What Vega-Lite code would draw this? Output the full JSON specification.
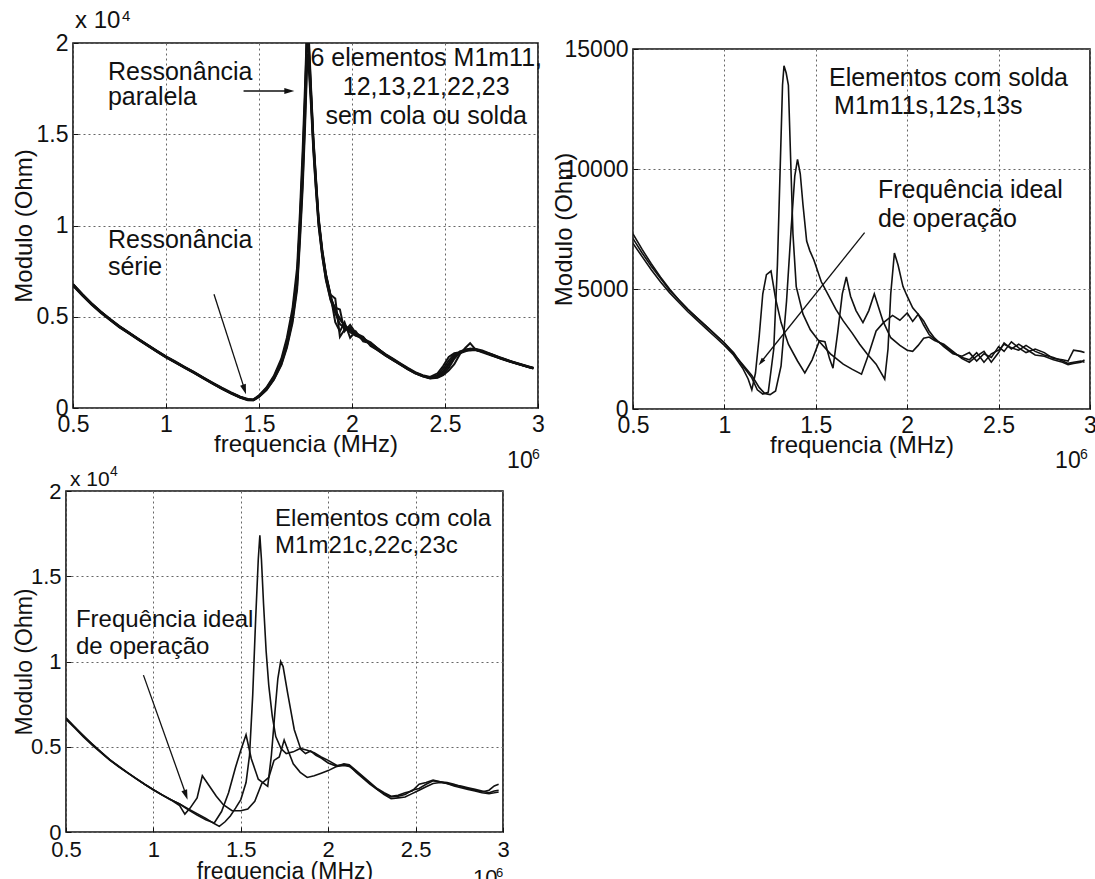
{
"$schema":"https://vega.github.io/schema/vega-lite/v6.json",
"background":"white",
"padding":0,
"config":{
 "font":"Liberation Sans",
 "view":{"stroke":null},
 "axis":{"labelFont":"Liberation Sans","labelFontSize":23,"labelColor":"#111","titleFont":"Liberation Sans","titleFontSize":24,"titleFontWeight":"normal","titleColor":"#111","domain":false,"ticks":true,"tickSize":-5,"tickColor":"#111","tickWidth":1,"grid":true,"gridColor":"#666","gridDash":[2,3],"gridWidth":1,"gridOpacity":1,"labelFlush":false,"labelOverlap":false,"labelPadding":10},
 "text":{"font":"Liberation Sans","fontSize":25,"color":"#111"}
},
"datasets":{
"p1":[
{"c":1,"f":0.5,"z":6750},{"c":1,"f":0.55,"z":6200},{"c":1,"f":0.6,"z":5700},{"c":1,"f":0.65,"z":5250},{"c":1,"f":0.7,"z":4850},{"c":1,"f":0.75,"z":4450},{"c":1,"f":0.8,"z":4120},{"c":1,"f":0.85,"z":3780},{"c":1,"f":0.9,"z":3450},{"c":1,"f":0.95,"z":3120},{"c":1,"f":1,"z":2800},{"c":1,"f":1.05,"z":2520},{"c":1,"f":1.1,"z":2230},{"c":1,"f":1.15,"z":1950},{"c":1,"f":1.2,"z":1650},{"c":1,"f":1.25,"z":1360},{"c":1,"f":1.3,"z":1080},{"c":1,"f":1.35,"z":820},{"c":1,"f":1.4,"z":590},{"c":1,"f":1.44,"z":460},{"c":1,"f":1.47,"z":440},{"c":1,"f":1.5,"z":650},{"c":1,"f":1.54,"z":1050},{"c":1,"f":1.58,"z":1650},{"c":1,"f":1.62,"z":2500},{"c":1,"f":1.65,"z":3550},{"c":1,"f":1.68,"z":5000},{"c":1,"f":1.705,"z":7000},{"c":1,"f":1.72,"z":9800},{"c":1,"f":1.735,"z":13000},{"c":1,"f":1.748,"z":16500},{"c":1,"f":1.757,"z":19500},{"c":1,"f":1.763,"z":20800},{"c":1,"f":1.77,"z":19000},{"c":1,"f":1.78,"z":17000},{"c":1,"f":1.792,"z":14500},{"c":1,"f":1.805,"z":12500},{"c":1,"f":1.82,"z":10300},{"c":1,"f":1.84,"z":8500},{"c":1,"f":1.86,"z":7200},{"c":1,"f":1.885,"z":6100},{"c":1,"f":1.91,"z":5300},{"c":1,"f":1.935,"z":4850},{"c":1,"f":1.96,"z":4550},{"c":1,"f":1.99,"z":4250},{"c":1,"f":2.02,"z":4050},{"c":1,"f":2.06,"z":3800},{"c":1,"f":2.1,"z":3500},{"c":1,"f":2.14,"z":3200},{"c":1,"f":2.18,"z":2900},{"c":1,"f":2.22,"z":2650},{"c":1,"f":2.26,"z":2400},{"c":1,"f":2.3,"z":2150},{"c":1,"f":2.34,"z":1920},{"c":1,"f":2.38,"z":1760},{"c":1,"f":2.42,"z":1650},{"c":1,"f":2.46,"z":1750},{"c":1,"f":2.49,"z":2000},{"c":1,"f":2.52,"z":2450},{"c":1,"f":2.55,"z":2850},{"c":1,"f":2.58,"z":3050},{"c":1,"f":2.61,"z":3150},{"c":1,"f":2.635,"z":3200},{"c":1,"f":2.66,"z":3200},{"c":1,"f":2.7,"z":3100},{"c":1,"f":2.75,"z":2900},{"c":1,"f":2.8,"z":2720},{"c":1,"f":2.85,"z":2550},{"c":1,"f":2.9,"z":2400},{"c":1,"f":2.95,"z":2250},{"c":1,"f":2.975,"z":2180},
{"c":2,"f":0.5,"z":6800},{"c":2,"f":0.55,"z":6250},{"c":2,"f":0.6,"z":5740},{"c":2,"f":0.65,"z":5290},{"c":2,"f":0.7,"z":4880},{"c":2,"f":0.75,"z":4490},{"c":2,"f":0.8,"z":4150},{"c":2,"f":0.85,"z":3810},{"c":2,"f":0.9,"z":3480},{"c":2,"f":0.95,"z":3150},{"c":2,"f":1,"z":2830},{"c":2,"f":1.05,"z":2550},{"c":2,"f":1.1,"z":2260},{"c":2,"f":1.15,"z":1980},{"c":2,"f":1.2,"z":1680},{"c":2,"f":1.25,"z":1390},{"c":2,"f":1.3,"z":1110},{"c":2,"f":1.35,"z":850},{"c":2,"f":1.4,"z":620},{"c":2,"f":1.44,"z":490},{"c":2,"f":1.47,"z":470},{"c":2,"f":1.5,"z":690},{"c":2,"f":1.54,"z":1120},{"c":2,"f":1.58,"z":1760},{"c":2,"f":1.62,"z":2700},{"c":2,"f":1.65,"z":3850},{"c":2,"f":1.68,"z":5450},{"c":2,"f":1.705,"z":7700},{"c":2,"f":1.72,"z":10700},{"c":2,"f":1.735,"z":14200},{"c":2,"f":1.748,"z":17800},{"c":2,"f":1.757,"z":20600},{"c":2,"f":1.763,"z":21500},{"c":2,"f":1.77,"z":19800},{"c":2,"f":1.78,"z":17500},{"c":2,"f":1.792,"z":14900},{"c":2,"f":1.805,"z":12800},{"c":2,"f":1.82,"z":10500},{"c":2,"f":1.84,"z":8700},{"c":2,"f":1.86,"z":7350},{"c":2,"f":1.885,"z":6200},{"c":2,"f":1.91,"z":6000},{"c":2,"f":1.935,"z":3900},{"c":2,"f":1.96,"z":4300},{"c":2,"f":1.99,"z":4400},{"c":2,"f":2.02,"z":4000},{"c":2,"f":2.06,"z":3750},{"c":2,"f":2.1,"z":3550},{"c":2,"f":2.14,"z":3250},{"c":2,"f":2.18,"z":2950},{"c":2,"f":2.22,"z":2700},{"c":2,"f":2.26,"z":2450},{"c":2,"f":2.3,"z":2200},{"c":2,"f":2.34,"z":1970},{"c":2,"f":2.38,"z":1800},{"c":2,"f":2.42,"z":1700},{"c":2,"f":2.46,"z":1900},{"c":2,"f":2.49,"z":2300},{"c":2,"f":2.52,"z":2800},{"c":2,"f":2.55,"z":3000},{"c":2,"f":2.58,"z":3050},{"c":2,"f":2.61,"z":3150},{"c":2,"f":2.635,"z":3150},{"c":2,"f":2.66,"z":3180},{"c":2,"f":2.7,"z":3100},{"c":2,"f":2.75,"z":2950},{"c":2,"f":2.8,"z":2760},{"c":2,"f":2.85,"z":2580},{"c":2,"f":2.9,"z":2430},{"c":2,"f":2.95,"z":2280},{"c":2,"f":2.975,"z":2210},
{"c":3,"f":0.5,"z":6700},{"c":3,"f":0.55,"z":6160},{"c":3,"f":0.6,"z":5660},{"c":3,"f":0.65,"z":5210},{"c":3,"f":0.7,"z":4810},{"c":3,"f":0.75,"z":4420},{"c":3,"f":0.8,"z":4080},{"c":3,"f":0.85,"z":3750},{"c":3,"f":0.9,"z":3420},{"c":3,"f":0.95,"z":3090},{"c":3,"f":1,"z":2770},{"c":3,"f":1.05,"z":2490},{"c":3,"f":1.1,"z":2200},{"c":3,"f":1.15,"z":1920},{"c":3,"f":1.2,"z":1620},{"c":3,"f":1.25,"z":1330},{"c":3,"f":1.3,"z":1050},{"c":3,"f":1.35,"z":790},{"c":3,"f":1.4,"z":560},{"c":3,"f":1.44,"z":430},{"c":3,"f":1.47,"z":420},{"c":3,"f":1.5,"z":600},{"c":3,"f":1.54,"z":980},{"c":3,"f":1.58,"z":1550},{"c":3,"f":1.62,"z":2350},{"c":3,"f":1.65,"z":3300},{"c":3,"f":1.68,"z":4650},{"c":3,"f":1.705,"z":6500},{"c":3,"f":1.72,"z":9100},{"c":3,"f":1.735,"z":12100},{"c":3,"f":1.748,"z":15500},{"c":3,"f":1.757,"z":18300},{"c":3,"f":1.763,"z":19400},{"c":3,"f":1.77,"z":18600},{"c":3,"f":1.78,"z":16800},{"c":3,"f":1.792,"z":14300},{"c":3,"f":1.805,"z":12200},{"c":3,"f":1.82,"z":10100},{"c":3,"f":1.84,"z":8350},{"c":3,"f":1.86,"z":7050},{"c":3,"f":1.885,"z":5950},{"c":3,"f":1.91,"z":5500},{"c":3,"f":1.935,"z":5400},{"c":3,"f":1.96,"z":4200},{"c":3,"f":1.99,"z":4550},{"c":3,"f":2.02,"z":4100},{"c":3,"f":2.06,"z":3900},{"c":3,"f":2.1,"z":3400},{"c":3,"f":2.14,"z":3150},{"c":3,"f":2.18,"z":2880},{"c":3,"f":2.22,"z":2620},{"c":3,"f":2.26,"z":2370},{"c":3,"f":2.3,"z":2120},{"c":3,"f":2.34,"z":1900},{"c":3,"f":2.38,"z":1740},{"c":3,"f":2.42,"z":1620},{"c":3,"f":2.46,"z":1650},{"c":3,"f":2.49,"z":1800},{"c":3,"f":2.52,"z":2050},{"c":3,"f":2.55,"z":2400},{"c":3,"f":2.58,"z":2950},{"c":3,"f":2.61,"z":3300},{"c":3,"f":2.635,"z":3550},{"c":3,"f":2.66,"z":3250},{"c":3,"f":2.7,"z":3100},{"c":3,"f":2.75,"z":2900},{"c":3,"f":2.8,"z":2700},{"c":3,"f":2.85,"z":2530},{"c":3,"f":2.9,"z":2380},{"c":3,"f":2.95,"z":2230},{"c":3,"f":2.975,"z":2160},
{"c":4,"f":0.5,"z":6780},{"c":4,"f":0.55,"z":6230},{"c":4,"f":0.6,"z":5720},{"c":4,"f":0.65,"z":5270},{"c":4,"f":0.7,"z":4860},{"c":4,"f":0.75,"z":4470},{"c":4,"f":0.8,"z":4130},{"c":4,"f":0.85,"z":3790},{"c":4,"f":0.9,"z":3460},{"c":4,"f":0.95,"z":3130},{"c":4,"f":1,"z":2810},{"c":4,"f":1.05,"z":2530},{"c":4,"f":1.1,"z":2240},{"c":4,"f":1.15,"z":1960},{"c":4,"f":1.2,"z":1660},{"c":4,"f":1.25,"z":1370},{"c":4,"f":1.3,"z":1090},{"c":4,"f":1.35,"z":830},{"c":4,"f":1.4,"z":600},{"c":4,"f":1.44,"z":470},{"c":4,"f":1.47,"z":450},{"c":4,"f":1.5,"z":660},{"c":4,"f":1.54,"z":1080},{"c":4,"f":1.58,"z":1700},{"c":4,"f":1.62,"z":2580},{"c":4,"f":1.65,"z":3680},{"c":4,"f":1.68,"z":5200},{"c":4,"f":1.705,"z":7300},{"c":4,"f":1.72,"z":10200},{"c":4,"f":1.735,"z":13600},{"c":4,"f":1.748,"z":17200},{"c":4,"f":1.757,"z":20300},{"c":4,"f":1.763,"z":21000},{"c":4,"f":1.77,"z":19500},{"c":4,"f":1.78,"z":17300},{"c":4,"f":1.792,"z":14800},{"c":4,"f":1.805,"z":12700},{"c":4,"f":1.82,"z":10400},{"c":4,"f":1.84,"z":8600},{"c":4,"f":1.86,"z":7300},{"c":4,"f":1.885,"z":6150},{"c":4,"f":1.91,"z":4700},{"c":4,"f":1.935,"z":4200},{"c":4,"f":1.96,"z":4700},{"c":4,"f":1.99,"z":3850},{"c":4,"f":2.02,"z":4200},{"c":4,"f":2.06,"z":3650},{"c":4,"f":2.1,"z":3550},{"c":4,"f":2.14,"z":3250},{"c":4,"f":2.18,"z":2930},{"c":4,"f":2.22,"z":2680},{"c":4,"f":2.26,"z":2420},{"c":4,"f":2.3,"z":2170},{"c":4,"f":2.34,"z":1940},{"c":4,"f":2.38,"z":1770},{"c":4,"f":2.42,"z":1660},{"c":4,"f":2.46,"z":1800},{"c":4,"f":2.49,"z":2150},{"c":4,"f":2.52,"z":2600},{"c":4,"f":2.55,"z":2950},{"c":4,"f":2.58,"z":3000},{"c":4,"f":2.61,"z":3100},{"c":4,"f":2.635,"z":3200},{"c":4,"f":2.66,"z":3200},{"c":4,"f":2.7,"z":3050},{"c":4,"f":2.75,"z":2880},{"c":4,"f":2.8,"z":2710},{"c":4,"f":2.85,"z":2540},{"c":4,"f":2.9,"z":2390},{"c":4,"f":2.95,"z":2240},{"c":4,"f":2.975,"z":2170},
{"c":5,"f":0.5,"z":6720},{"c":5,"f":0.55,"z":6170},{"c":5,"f":0.6,"z":5680},{"c":5,"f":0.65,"z":5230},{"c":5,"f":0.7,"z":4830},{"c":5,"f":0.75,"z":4430},{"c":5,"f":0.8,"z":4100},{"c":5,"f":0.85,"z":3760},{"c":5,"f":0.9,"z":3430},{"c":5,"f":0.95,"z":3100},{"c":5,"f":1,"z":2780},{"c":5,"f":1.05,"z":2500},{"c":5,"f":1.1,"z":2210},{"c":5,"f":1.15,"z":1930},{"c":5,"f":1.2,"z":1630},{"c":5,"f":1.25,"z":1340},{"c":5,"f":1.3,"z":1060},{"c":5,"f":1.35,"z":800},{"c":5,"f":1.4,"z":570},{"c":5,"f":1.44,"z":440},{"c":5,"f":1.47,"z":430},{"c":5,"f":1.5,"z":620},{"c":5,"f":1.54,"z":1000},{"c":5,"f":1.58,"z":1580},{"c":5,"f":1.62,"z":2400},{"c":5,"f":1.65,"z":3400},{"c":5,"f":1.68,"z":4800},{"c":5,"f":1.705,"z":6700},{"c":5,"f":1.72,"z":9400},{"c":5,"f":1.735,"z":12500},{"c":5,"f":1.748,"z":16000},{"c":5,"f":1.757,"z":18800},{"c":5,"f":1.763,"z":19300},{"c":5,"f":1.77,"z":18200},{"c":5,"f":1.78,"z":16500},{"c":5,"f":1.792,"z":14100},{"c":5,"f":1.805,"z":12100},{"c":5,"f":1.82,"z":10000},{"c":5,"f":1.84,"z":8300},{"c":5,"f":1.86,"z":7000},{"c":5,"f":1.885,"z":5900},{"c":5,"f":1.91,"z":5200},{"c":5,"f":1.935,"z":4600},{"c":5,"f":1.96,"z":4400},{"c":5,"f":1.99,"z":4150},{"c":5,"f":2.02,"z":3950},{"c":5,"f":2.06,"z":3850},{"c":5,"f":2.1,"z":3450},{"c":5,"f":2.14,"z":3150},{"c":5,"f":2.18,"z":2870},{"c":5,"f":2.22,"z":2620},{"c":5,"f":2.26,"z":2380},{"c":5,"f":2.3,"z":2130},{"c":5,"f":2.34,"z":1900},{"c":5,"f":2.38,"z":1740},{"c":5,"f":2.42,"z":1630},{"c":5,"f":2.46,"z":1680},{"c":5,"f":2.49,"z":1850},{"c":5,"f":2.52,"z":2200},{"c":5,"f":2.55,"z":2700},{"c":5,"f":2.58,"z":3050},{"c":5,"f":2.61,"z":3200},{"c":5,"f":2.635,"z":3250},{"c":5,"f":2.66,"z":3250},{"c":5,"f":2.7,"z":3150},{"c":5,"f":2.75,"z":2950},{"c":5,"f":2.8,"z":2750},{"c":5,"f":2.85,"z":2570},{"c":5,"f":2.9,"z":2410},{"c":5,"f":2.95,"z":2260},{"c":5,"f":2.975,"z":2190},
{"c":6,"f":0.5,"z":6760},{"c":6,"f":0.55,"z":6210},{"c":6,"f":0.6,"z":5710},{"c":6,"f":0.65,"z":5260},{"c":6,"f":0.7,"z":4850},{"c":6,"f":0.75,"z":4460},{"c":6,"f":0.8,"z":4120},{"c":6,"f":0.85,"z":3780},{"c":6,"f":0.9,"z":3450},{"c":6,"f":0.95,"z":3120},{"c":6,"f":1,"z":2800},{"c":6,"f":1.05,"z":2520},{"c":6,"f":1.1,"z":2230},{"c":6,"f":1.15,"z":1950},{"c":6,"f":1.2,"z":1650},{"c":6,"f":1.25,"z":1360},{"c":6,"f":1.3,"z":1080},{"c":6,"f":1.35,"z":820},{"c":6,"f":1.4,"z":590},{"c":6,"f":1.44,"z":460},{"c":6,"f":1.47,"z":450},{"c":6,"f":1.5,"z":640},{"c":6,"f":1.54,"z":1060},{"c":6,"f":1.58,"z":1670},{"c":6,"f":1.62,"z":2540},{"c":6,"f":1.65,"z":3600},{"c":6,"f":1.68,"z":5100},{"c":6,"f":1.705,"z":7150},{"c":6,"f":1.72,"z":10000},{"c":6,"f":1.735,"z":13300},{"c":6,"f":1.748,"z":16900},{"c":6,"f":1.757,"z":20000},{"c":6,"f":1.763,"z":20600},{"c":6,"f":1.77,"z":19200},{"c":6,"f":1.78,"z":17100},{"c":6,"f":1.792,"z":14600},{"c":6,"f":1.805,"z":12600},{"c":6,"f":1.82,"z":10350},{"c":6,"f":1.84,"z":8550},{"c":6,"f":1.86,"z":7250},{"c":6,"f":1.885,"z":6100},{"c":6,"f":1.91,"z":5350},{"c":6,"f":1.935,"z":4900},{"c":6,"f":1.96,"z":4500},{"c":6,"f":1.99,"z":4300},{"c":6,"f":2.02,"z":4100},{"c":6,"f":2.06,"z":3800},{"c":6,"f":2.1,"z":3600},{"c":6,"f":2.14,"z":3250},{"c":6,"f":2.18,"z":2920},{"c":6,"f":2.22,"z":2660},{"c":6,"f":2.26,"z":2410},{"c":6,"f":2.3,"z":2160},{"c":6,"f":2.34,"z":1930},{"c":6,"f":2.38,"z":1760},{"c":6,"f":2.42,"z":1650},{"c":6,"f":2.46,"z":1720},{"c":6,"f":2.49,"z":1950},{"c":6,"f":2.52,"z":2350},{"c":6,"f":2.55,"z":2800},{"c":6,"f":2.58,"z":3100},{"c":6,"f":2.61,"z":3200},{"c":6,"f":2.635,"z":3250},{"c":6,"f":2.66,"z":3200},{"c":6,"f":2.7,"z":3100},{"c":6,"f":2.75,"z":2920},{"c":6,"f":2.8,"z":2730},{"c":6,"f":2.85,"z":2560},{"c":6,"f":2.9,"z":2400},{"c":6,"f":2.95,"z":2250},{"c":6,"f":2.975,"z":2180}
],
"p2":[
{"c":"A","f":0.5,"z":7300},{"c":"A","f":0.55,"z":6650},{"c":"A","f":0.6,"z":6050},{"c":"A","f":0.65,"z":5500},{"c":"A","f":0.7,"z":5000},{"c":"A","f":0.75,"z":4550},{"c":"A","f":0.8,"z":4150},{"c":"A","f":0.85,"z":3800},{"c":"A","f":0.9,"z":3450},{"c":"A","f":0.95,"z":3100},{"c":"A","f":1,"z":2750},{"c":"A","f":1.05,"z":2350},{"c":"A","f":1.1,"z":1800},{"c":"A","f":1.15,"z":1300},{"c":"A","f":1.18,"z":800},{"c":"A","f":1.21,"z":620},{"c":"A","f":1.24,"z":700},{"c":"A","f":1.27,"z":2500},{"c":"A","f":1.29,"z":6000},{"c":"A","f":1.305,"z":10000},{"c":"A","f":1.318,"z":13500},{"c":"A","f":1.326,"z":14300},{"c":"A","f":1.338,"z":14000},{"c":"A","f":1.35,"z":13500},{"c":"A","f":1.36,"z":11000},{"c":"A","f":1.375,"z":7300},{"c":"A","f":1.393,"z":5100},{"c":"A","f":1.43,"z":3950},{"c":"A","f":1.47,"z":3300},{"c":"A","f":1.52,"z":2800},{"c":"A","f":1.58,"z":2300},{"c":"A","f":1.65,"z":1870},{"c":"A","f":1.7,"z":1650},{"c":"A","f":1.75,"z":1450},{"c":"A","f":1.79,"z":2300},{"c":"A","f":1.83,"z":3250},{"c":"A","f":1.87,"z":3600},{"c":"A","f":1.92,"z":3900},{"c":"A","f":1.96,"z":3700},{"c":"A","f":2,"z":4000},{"c":"A","f":2.03,"z":3650},{"c":"A","f":2.06,"z":3950},{"c":"A","f":2.09,"z":3500},{"c":"A","f":2.12,"z":3100},{"c":"A","f":2.15,"z":2900},{"c":"A","f":2.2,"z":2650},{"c":"A","f":2.25,"z":2350},{"c":"A","f":2.3,"z":2150},{"c":"A","f":2.34,"z":2050},{"c":"A","f":2.38,"z":2350},{"c":"A","f":2.42,"z":1950},{"c":"A","f":2.46,"z":2300},{"c":"A","f":2.5,"z":2450},{"c":"A","f":2.53,"z":2700},{"c":"A","f":2.57,"z":2550},{"c":"A","f":2.61,"z":2450},{"c":"A","f":2.65,"z":2650},{"c":"A","f":2.7,"z":2400},{"c":"A","f":2.75,"z":2250},{"c":"A","f":2.8,"z":2150},{"c":"A","f":2.85,"z":2000},{"c":"A","f":2.88,"z":1900},{"c":"A","f":2.91,"z":1950},{"c":"A","f":2.95,"z":2000},{"c":"A","f":2.97,"z":1950},
{"c":"B","f":0.5,"z":7100},{"c":"B","f":0.55,"z":6500},{"c":"B","f":0.6,"z":5950},{"c":"B","f":0.65,"z":5450},{"c":"B","f":0.7,"z":4950},{"c":"B","f":0.75,"z":4550},{"c":"B","f":0.8,"z":4150},{"c":"B","f":0.85,"z":3800},{"c":"B","f":0.9,"z":3450},{"c":"B","f":0.95,"z":3100},{"c":"B","f":1,"z":2750},{"c":"B","f":1.05,"z":2300},{"c":"B","f":1.1,"z":1850},{"c":"B","f":1.15,"z":1400},{"c":"B","f":1.19,"z":900},{"c":"B","f":1.22,"z":650},{"c":"B","f":1.25,"z":600},{"c":"B","f":1.28,"z":750},{"c":"B","f":1.31,"z":1800},{"c":"B","f":1.34,"z":4500},{"c":"B","f":1.365,"z":7500},{"c":"B","f":1.385,"z":9700},{"c":"B","f":1.4,"z":10400},{"c":"B","f":1.415,"z":9800},{"c":"B","f":1.43,"z":8500},{"c":"B","f":1.45,"z":7000},{"c":"B","f":1.467,"z":6600},{"c":"B","f":1.49,"z":6200},{"c":"B","f":1.53,"z":5300},{"c":"B","f":1.576,"z":4640},{"c":"B","f":1.61,"z":4150},{"c":"B","f":1.65,"z":3670},{"c":"B","f":1.7,"z":3150},{"c":"B","f":1.74,"z":2700},{"c":"B","f":1.78,"z":2300},{"c":"B","f":1.83,"z":1870},{"c":"B","f":1.877,"z":1240},{"c":"B","f":1.895,"z":2500},{"c":"B","f":1.91,"z":4800},{"c":"B","f":1.93,"z":6500},{"c":"B","f":1.95,"z":6000},{"c":"B","f":1.977,"z":5100},{"c":"B","f":2,"z":4700},{"c":"B","f":2.03,"z":4220},{"c":"B","f":2.06,"z":3950},{"c":"B","f":2.09,"z":3670},{"c":"B","f":2.12,"z":3250},{"c":"B","f":2.15,"z":2950},{"c":"B","f":2.2,"z":2600},{"c":"B","f":2.25,"z":2300},{"c":"B","f":2.3,"z":2200},{"c":"B","f":2.34,"z":2350},{"c":"B","f":2.38,"z":2000},{"c":"B","f":2.42,"z":2300},{"c":"B","f":2.46,"z":2150},{"c":"B","f":2.5,"z":2600},{"c":"B","f":2.53,"z":2400},{"c":"B","f":2.57,"z":2800},{"c":"B","f":2.61,"z":2550},{"c":"B","f":2.65,"z":2350},{"c":"B","f":2.7,"z":2500},{"c":"B","f":2.75,"z":2350},{"c":"B","f":2.8,"z":2100},{"c":"B","f":2.85,"z":2050},{"c":"B","f":2.88,"z":2000},{"c":"B","f":2.91,"z":2450},{"c":"B","f":2.95,"z":2400},{"c":"B","f":2.97,"z":2350},
{"c":"C","f":0.5,"z":6900},{"c":"C","f":0.55,"z":6350},{"c":"C","f":0.6,"z":5800},{"c":"C","f":0.65,"z":5300},{"c":"C","f":0.7,"z":4850},{"c":"C","f":0.75,"z":4450},{"c":"C","f":0.8,"z":4050},{"c":"C","f":0.85,"z":3700},{"c":"C","f":0.9,"z":3350},{"c":"C","f":0.95,"z":3000},{"c":"C","f":1,"z":2650},{"c":"C","f":1.05,"z":2250},{"c":"C","f":1.1,"z":1700},{"c":"C","f":1.13,"z":1250},{"c":"C","f":1.15,"z":800},{"c":"C","f":1.17,"z":1500},{"c":"C","f":1.19,"z":3000},{"c":"C","f":1.21,"z":4800},{"c":"C","f":1.23,"z":5600},{"c":"C","f":1.255,"z":5750},{"c":"C","f":1.28,"z":4600},{"c":"C","f":1.31,"z":3600},{"c":"C","f":1.35,"z":2700},{"c":"C","f":1.4,"z":2000},{"c":"C","f":1.44,"z":1500},{"c":"C","f":1.48,"z":2050},{"c":"C","f":1.52,"z":2850},{"c":"C","f":1.55,"z":2800},{"c":"C","f":1.575,"z":2100},{"c":"C","f":1.594,"z":1700},{"c":"C","f":1.62,"z":3200},{"c":"C","f":1.645,"z":4800},{"c":"C","f":1.667,"z":5500},{"c":"C","f":1.69,"z":4700},{"c":"C","f":1.72,"z":4100},{"c":"C","f":1.758,"z":3600},{"c":"C","f":1.79,"z":4100},{"c":"C","f":1.82,"z":4800},{"c":"C","f":1.845,"z":4200},{"c":"C","f":1.868,"z":3650},{"c":"C","f":1.91,"z":2970},{"c":"C","f":1.96,"z":2650},{"c":"C","f":2,"z":2450},{"c":"C","f":2.03,"z":2400},{"c":"C","f":2.06,"z":2650},{"c":"C","f":2.09,"z":2950},{"c":"C","f":2.12,"z":3000},{"c":"C","f":2.15,"z":2850},{"c":"C","f":2.2,"z":2700},{"c":"C","f":2.25,"z":2400},{"c":"C","f":2.3,"z":2100},{"c":"C","f":2.34,"z":1950},{"c":"C","f":2.38,"z":2200},{"c":"C","f":2.42,"z":2400},{"c":"C","f":2.46,"z":1950},{"c":"C","f":2.5,"z":2350},{"c":"C","f":2.53,"z":2750},{"c":"C","f":2.57,"z":2500},{"c":"C","f":2.61,"z":2700},{"c":"C","f":2.65,"z":2500},{"c":"C","f":2.7,"z":2250},{"c":"C","f":2.75,"z":2200},{"c":"C","f":2.8,"z":2050},{"c":"C","f":2.85,"z":1950},{"c":"C","f":2.88,"z":1850},{"c":"C","f":2.91,"z":1900},{"c":"C","f":2.95,"z":1950},{"c":"C","f":2.97,"z":2050}
],
"p3":[
{"c":"D","f":0.5,"z":6700},{"c":"D","f":0.55,"z":6150},{"c":"D","f":0.6,"z":5600},{"c":"D","f":0.65,"z":5150},{"c":"D","f":0.7,"z":4700},{"c":"D","f":0.75,"z":4250},{"c":"D","f":0.8,"z":3850},{"c":"D","f":0.85,"z":3500},{"c":"D","f":0.9,"z":3150},{"c":"D","f":0.95,"z":2800},{"c":"D","f":1,"z":2480},{"c":"D","f":1.05,"z":2180},{"c":"D","f":1.1,"z":1900},{"c":"D","f":1.15,"z":1650},{"c":"D","f":1.2,"z":1350},{"c":"D","f":1.25,"z":1080},{"c":"D","f":1.3,"z":800},{"c":"D","f":1.35,"z":480},{"c":"D","f":1.377,"z":330},{"c":"D","f":1.41,"z":600},{"c":"D","f":1.44,"z":940},{"c":"D","f":1.47,"z":1400},{"c":"D","f":1.5,"z":1900},{"c":"D","f":1.53,"z":2900},{"c":"D","f":1.55,"z":4500},{"c":"D","f":1.568,"z":8000},{"c":"D","f":1.585,"z":12500},{"c":"D","f":1.6,"z":16000},{"c":"D","f":1.609,"z":17400},{"c":"D","f":1.618,"z":16000},{"c":"D","f":1.63,"z":13400},{"c":"D","f":1.645,"z":10600},{"c":"D","f":1.66,"z":8600},{"c":"D","f":1.68,"z":6800},{"c":"D","f":1.7,"z":5600},{"c":"D","f":1.73,"z":4900},{"c":"D","f":1.76,"z":4600},{"c":"D","f":1.8,"z":4700},{"c":"D","f":1.84,"z":4900},{"c":"D","f":1.88,"z":4800},{"c":"D","f":1.92,"z":4650},{"c":"D","f":1.96,"z":4400},{"c":"D","f":2,"z":4200},{"c":"D","f":2.05,"z":3900},{"c":"D","f":2.09,"z":3950},{"c":"D","f":2.12,"z":3900},{"c":"D","f":2.16,"z":3500},{"c":"D","f":2.2,"z":3150},{"c":"D","f":2.24,"z":2800},{"c":"D","f":2.28,"z":2500},{"c":"D","f":2.32,"z":2250},{"c":"D","f":2.36,"z":2050},{"c":"D","f":2.4,"z":2100},{"c":"D","f":2.44,"z":2200},{"c":"D","f":2.48,"z":2450},{"c":"D","f":2.52,"z":2550},{"c":"D","f":2.56,"z":2800},{"c":"D","f":2.6,"z":3000},{"c":"D","f":2.64,"z":2950},{"c":"D","f":2.68,"z":2900},{"c":"D","f":2.72,"z":2800},{"c":"D","f":2.76,"z":2650},{"c":"D","f":2.8,"z":2550},{"c":"D","f":2.84,"z":2450},{"c":"D","f":2.88,"z":2350},{"c":"D","f":2.92,"z":2450},{"c":"D","f":2.95,"z":2700},{"c":"D","f":2.975,"z":2800},
{"c":"E","f":0.5,"z":6650},{"c":"E","f":0.55,"z":6150},{"c":"E","f":0.6,"z":5650},{"c":"E","f":0.65,"z":5150},{"c":"E","f":0.7,"z":4680},{"c":"E","f":0.75,"z":4250},{"c":"E","f":0.8,"z":3870},{"c":"E","f":0.85,"z":3500},{"c":"E","f":0.9,"z":3150},{"c":"E","f":0.95,"z":2800},{"c":"E","f":1,"z":2480},{"c":"E","f":1.05,"z":2180},{"c":"E","f":1.1,"z":1900},{"c":"E","f":1.15,"z":1640},{"c":"E","f":1.2,"z":1300},{"c":"E","f":1.25,"z":1000},{"c":"E","f":1.3,"z":720},{"c":"E","f":1.348,"z":530},{"c":"E","f":1.39,"z":1200},{"c":"E","f":1.43,"z":2300},{"c":"E","f":1.47,"z":3800},{"c":"E","f":1.5,"z":4800},{"c":"E","f":1.53,"z":5700},{"c":"E","f":1.56,"z":4300},{"c":"E","f":1.6,"z":3100},{"c":"E","f":1.654,"z":2680},{"c":"E","f":1.675,"z":4500},{"c":"E","f":1.695,"z":7000},{"c":"E","f":1.712,"z":9000},{"c":"E","f":1.728,"z":10000},{"c":"E","f":1.742,"z":9700},{"c":"E","f":1.768,"z":8150},{"c":"E","f":1.79,"z":6900},{"c":"E","f":1.806,"z":6000},{"c":"E","f":1.844,"z":4830},{"c":"E","f":1.87,"z":4600},{"c":"E","f":1.9,"z":4750},{"c":"E","f":1.93,"z":4500},{"c":"E","f":1.96,"z":4340},{"c":"E","f":2,"z":4050},{"c":"E","f":2.05,"z":3850},{"c":"E","f":2.09,"z":3900},{"c":"E","f":2.12,"z":3850},{"c":"E","f":2.16,"z":3550},{"c":"E","f":2.2,"z":3200},{"c":"E","f":2.24,"z":2850},{"c":"E","f":2.28,"z":2500},{"c":"E","f":2.32,"z":2200},{"c":"E","f":2.36,"z":1950},{"c":"E","f":2.4,"z":2000},{"c":"E","f":2.44,"z":2050},{"c":"E","f":2.48,"z":2250},{"c":"E","f":2.52,"z":2450},{"c":"E","f":2.56,"z":2650},{"c":"E","f":2.6,"z":2850},{"c":"E","f":2.64,"z":2900},{"c":"E","f":2.68,"z":2850},{"c":"E","f":2.72,"z":2750},{"c":"E","f":2.76,"z":2700},{"c":"E","f":2.8,"z":2600},{"c":"E","f":2.84,"z":2500},{"c":"E","f":2.88,"z":2400},{"c":"E","f":2.92,"z":2300},{"c":"E","f":2.95,"z":2400},{"c":"E","f":2.975,"z":2450},
{"c":"F","f":0.5,"z":6600},{"c":"F","f":0.55,"z":6100},{"c":"F","f":0.6,"z":5580},{"c":"F","f":0.65,"z":5100},{"c":"F","f":0.7,"z":4650},{"c":"F","f":0.75,"z":4220},{"c":"F","f":0.8,"z":3830},{"c":"F","f":0.85,"z":3480},{"c":"F","f":0.9,"z":3130},{"c":"F","f":0.95,"z":2790},{"c":"F","f":1,"z":2470},{"c":"F","f":1.05,"z":2170},{"c":"F","f":1.1,"z":1880},{"c":"F","f":1.15,"z":1550},{"c":"F","f":1.18,"z":1050},{"c":"F","f":1.21,"z":1400},{"c":"F","f":1.25,"z":2000},{"c":"F","f":1.28,"z":3300},{"c":"F","f":1.32,"z":2700},{"c":"F","f":1.36,"z":2100},{"c":"F","f":1.4,"z":1600},{"c":"F","f":1.45,"z":1250},{"c":"F","f":1.5,"z":1250},{"c":"F","f":1.54,"z":1350},{"c":"F","f":1.58,"z":1800},{"c":"F","f":1.62,"z":2850},{"c":"F","f":1.66,"z":3200},{"c":"F","f":1.69,"z":4200},{"c":"F","f":1.72,"z":4400},{"c":"F","f":1.748,"z":5400},{"c":"F","f":1.77,"z":4800},{"c":"F","f":1.8,"z":4000},{"c":"F","f":1.84,"z":3500},{"c":"F","f":1.88,"z":3200},{"c":"F","f":1.92,"z":3300},{"c":"F","f":1.96,"z":3450},{"c":"F","f":2,"z":3600},{"c":"F","f":2.05,"z":3850},{"c":"F","f":2.09,"z":4000},{"c":"F","f":2.12,"z":3950},{"c":"F","f":2.16,"z":3600},{"c":"F","f":2.2,"z":3250},{"c":"F","f":2.24,"z":2900},{"c":"F","f":2.28,"z":2550},{"c":"F","f":2.32,"z":2300},{"c":"F","f":2.36,"z":2100},{"c":"F","f":2.4,"z":2150},{"c":"F","f":2.44,"z":2300},{"c":"F","f":2.48,"z":2400},{"c":"F","f":2.52,"z":2800},{"c":"F","f":2.56,"z":2900},{"c":"F","f":2.6,"z":3050},{"c":"F","f":2.64,"z":2950},{"c":"F","f":2.68,"z":2850},{"c":"F","f":2.72,"z":2700},{"c":"F","f":2.76,"z":2600},{"c":"F","f":2.8,"z":2500},{"c":"F","f":2.84,"z":2400},{"c":"F","f":2.88,"z":2300},{"c":"F","f":2.92,"z":2250},{"c":"F","f":2.95,"z":2300},{"c":"F","f":2.975,"z":2350}
]
},
"vconcat":[
 {"hconcat":[
   {"hconcat":[
     {"width":1,"height":1,"data":{"values":[{}]},"mark":{"type":"rect","opacity":0},"encoding":{}},
     {"width":465,"height":365,"view":{"stroke":"#111","strokeWidth":1.6},
      "layer":[
       {"data":{"values":[{}]},"mark":{"type":"rect","opacity":0},"encoding":{"x":{"datum":0.1129},"x2":{"datum":3.0699},"y":{"datum":22302},"y2":{"datum":-4000}}},
       {"data":{"name":"p1"},"mark":{"type":"line","color":"#111","strokeWidth":2,"clip":true},
        "encoding":{
         "x":{"field":"f","type":"quantitative","scale":{"domain":[0.5,3],"nice":false,"zero":false},"axis":{"values":[0.5,1,1.5,2,2.5,3],"format":"~g","title":"frequencia (MHz)","titlePadding":-4}},
         "y":{"field":"z","type":"quantitative","scale":{"domain":[0,20000],"nice":false},"axis":{"values":[0,5000,10000,15000,20000],"labelExpr":"format(datum.value/10000,'~g')","title":"Modulo (Ohm)","titleX":-37,"titleY":182.5,"titleAngle":270,"titleBaseline":"bottom","titleAlign":"center"}},
         "detail":{"field":"c","type":"nominal"}}},
       {"data":{"values":[{}]},"mark":{"type":"text","text":["Ressonância","paralela"],"align":"left","baseline":"alphabetic","lineHeight":25},"encoding":{"x":{"datum":0.688},"y":{"datum":17970}}},
       {"data":{"values":[{}]},"mark":{"type":"text","text":["6 elementos M1m11,","12,13,21,22,23","sem cola ou solda"],"align":"center","baseline":"alphabetic","lineHeight":29},"encoding":{"x":{"datum":2.399},"y":{"datum":18740}}},
       {"data":{"values":[{}]},"mark":{"type":"text","text":["Ressonância","série"],"align":"left","baseline":"alphabetic","lineHeight":27},"encoding":{"x":{"datum":0.688},"y":{"datum":8780}}},
       {"data":{"values":[{}]},"mark":{"type":"rule","color":"#111","strokeWidth":1.3},"encoding":{"x":{"datum":1.417},"y":{"datum":17370},"x2":{"datum":1.66},"y2":{"datum":17370}}},
       {"data":{"values":[{}]},"mark":{"type":"point","shape":"M0,-1L0.6,1L-0.6,1Z","filled":true,"color":"#111","opacity":1,"size":100,"angle":90},"encoding":{"x":{"datum":1.663},"y":{"datum":17370}}},
       {"data":{"values":[{}]},"mark":{"type":"rule","color":"#111","strokeWidth":1.3},"encoding":{"x":{"datum":1.258},"y":{"datum":6230},"x2":{"datum":1.42},"y2":{"datum":1100}}},
       {"data":{"values":[{}]},"mark":{"type":"point","shape":"M0,-1L0.6,1L-0.6,1Z","filled":true,"color":"#111","opacity":1,"size":100,"angle":162.3},"encoding":{"x":{"datum":1.422},"y":{"datum":1014}}},
       {"data":{"values":[{}]},"mark":{"type":"text","text":"x 10","align":"left","baseline":"alphabetic","fontSize":24},"encoding":{"x":{"datum":0.511},"y":{"datum":20820}}},
       {"data":{"values":[{}]},"mark":{"type":"text","text":"4","align":"left","baseline":"alphabetic","fontSize":15},"encoding":{"x":{"datum":0.763},"y":{"datum":21200}}},
       {"data":{"values":[{}]},"mark":{"type":"text","text":"10","align":"left","baseline":"alphabetic","fontSize":23},"encoding":{"x":{"datum":2.834},"y":{"datum":-3290}}},
       {"data":{"values":[{}]},"mark":{"type":"text","text":"6","align":"left","baseline":"alphabetic","fontSize":14},"encoding":{"x":{"datum":2.968},"y":{"datum":-2790}}}
      ]}
   ],"spacing":6,"bounds":"flush"},
   {"vconcat":[
     {"width":1,"height":1,"data":{"values":[{}]},"mark":{"type":"rect","opacity":0},"encoding":{}},
     {"width":457,"height":360,"view":{"stroke":"#111","strokeWidth":1.6},
      "layer":[
       {"data":{"values":[{}]},"mark":{"type":"rect","opacity":0},"encoding":{"x":{"datum":-0.0197},"x2":{"datum":3.0438},"y":{"datum":17000},"y2":{"datum":-3000}}},
       {"data":{"name":"p2"},"mark":{"type":"line","color":"#111","strokeWidth":1.6,"clip":true},
        "encoding":{
         "x":{"field":"f","type":"quantitative","scale":{"domain":[0.5,3],"nice":false,"zero":false},"axis":{"values":[0.5,1,1.5,2,2.5,3],"format":"~g","title":"frequencia (MHz)","titlePadding":-4}},
         "y":{"field":"z","type":"quantitative","scale":{"domain":[0,15000],"nice":false},"axis":{"values":[0,5000,10000,15000],"format":"d","title":"Modulo (Ohm)","titleX":-57,"titleY":180,"titleAngle":270,"titleBaseline":"bottom","titleAlign":"center"}},
         "detail":{"field":"c","type":"nominal"}}},
       {"data":{"values":[{}]},"mark":{"type":"text","text":"Elementos com solda","align":"left","baseline":"alphabetic"},"encoding":{"x":{"datum":1.572},"y":{"datum":13460}}},
       {"data":{"values":[{}]},"mark":{"type":"text","text":"M1m11s,12s,13s","align":"left","baseline":"alphabetic"},"encoding":{"x":{"datum":1.6},"y":{"datum":12290}}},
       {"data":{"values":[{}]},"mark":{"type":"text","text":["Frequência ideal","de operação"],"align":"left","baseline":"alphabetic","lineHeight":29},"encoding":{"x":{"datum":1.84},"y":{"datum":8790}}},
       {"data":{"values":[{}]},"mark":{"type":"rule","color":"#111","strokeWidth":1.3},"encoding":{"x":{"datum":1.2},"y":{"datum":1950},"x2":{"datum":1.767},"y2":{"datum":7350}}},
       {"data":{"values":[{}]},"mark":{"type":"point","shape":"M0,-1L0.6,1L-0.6,1Z","filled":true,"color":"#111","opacity":1,"size":60,"angle":218.7},"encoding":{"x":{"datum":1.2008},"y":{"datum":1954}}},
       {"data":{"values":[{}]},"mark":{"type":"text","text":"10","align":"left","baseline":"alphabetic","fontSize":23},"encoding":{"x":{"datum":2.809},"y":{"datum":-2460}}},
       {"data":{"values":[{}]},"mark":{"type":"text","text":"6","align":"left","baseline":"alphabetic","fontSize":14},"encoding":{"x":{"datum":2.945},"y":{"datum":-2080}}}
      ]}
   ],"spacing":5,"bounds":"flush"}
 ],"spacing":-15},
 {"width":437,"height":341,"view":{"stroke":"#111","strokeWidth":1.6},
  "layer":[
   {"data":{"values":[{}]},"mark":{"type":"rect","opacity":0},"encoding":{"x":{"datum":0.1281},"x2":{"datum":3.103},"y":{"datum":22229},"y2":{"datum":-3578}}},
   {"data":{"name":"p3"},"mark":{"type":"line","color":"#111","strokeWidth":1.6,"clip":true},
    "encoding":{
     "x":{"field":"f","type":"quantitative","scale":{"domain":[0.5,3],"nice":false,"zero":false},"axis":{"values":[0.5,1,1.5,2,2.5,3],"format":"~g","title":"frequencia (MHz)","titlePadding":0,"labelFontSize":22,"titleFontSize":23,"labelPadding":12}},
     "y":{"field":"z","type":"quantitative","scale":{"domain":[0,20000],"nice":false},"axis":{"values":[0,5000,10000,15000,20000],"labelExpr":"format(datum.value/10000,'~g')","title":"Modulo (Ohm)","titleX":-30,"titleY":170.5,"titleAngle":270,"titleBaseline":"bottom","titleAlign":"center","labelFontSize":22,"titleFontSize":23}},
     "detail":{"field":"c","type":"nominal"}}},
   {"data":{"values":[{}]},"mark":{"type":"text","text":["Elementos com cola","M1m21c,22c,23c"],"align":"left","baseline":"alphabetic","fontSize":24,"lineHeight":27},"encoding":{"x":{"datum":1.696},"y":{"datum":17950}}},
   {"data":{"values":[{}]},"mark":{"type":"text","text":["Frequência ideal","de operação"],"align":"left","baseline":"alphabetic","fontSize":24,"lineHeight":27},"encoding":{"x":{"datum":0.557},"y":{"datum":12020}}},
   {"data":{"values":[{}]},"mark":{"type":"rule","color":"#111","strokeWidth":1.3},"encoding":{"x":{"datum":0.943},"y":{"datum":9200},"x2":{"datum":1.186},"y2":{"datum":2200}}},
   {"data":{"values":[{}]},"mark":{"type":"point","shape":"M0,-1L0.6,1L-0.6,1Z","filled":true,"color":"#111","opacity":1,"size":100,"angle":160.6},"encoding":{"x":{"datum":1.186},"y":{"datum":2170}}},
   {"data":{"values":[{}]},"mark":{"type":"text","text":"x 10","align":"left","baseline":"alphabetic","fontSize":21},"encoding":{"x":{"datum":0.523},"y":{"datum":20290}}},
   {"data":{"values":[{}]},"mark":{"type":"text","text":"4","align":"left","baseline":"alphabetic","fontSize":14},"encoding":{"x":{"datum":0.752},"y":{"datum":20880}}},
   {"data":{"values":[{}]},"mark":{"type":"text","text":"10","align":"left","baseline":"alphabetic","fontSize":22},"encoding":{"x":{"datum":2.828},"y":{"datum":-3110}}},
   {"data":{"values":[{}]},"mark":{"type":"text","text":"6","align":"left","baseline":"alphabetic","fontSize":13},"encoding":{"x":{"datum":2.96},"y":{"datum":-2640}}}
  ]}
],
"spacing":-30
}
